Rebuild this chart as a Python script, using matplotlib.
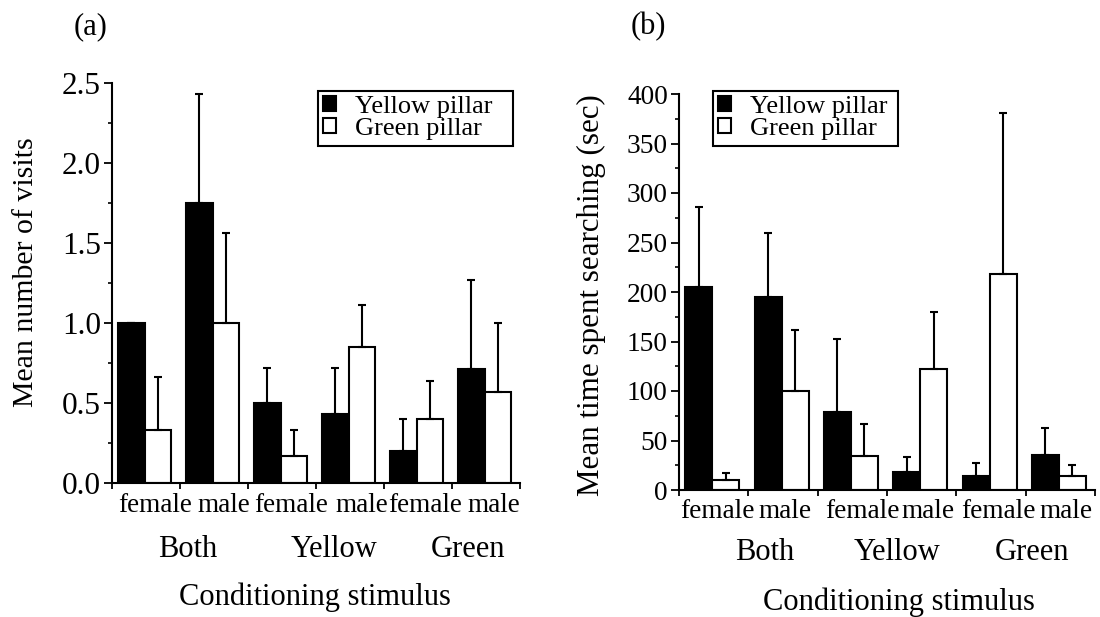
import numpy as np
import matplotlib.pyplot as plt
from matplotlib.ticker import MultipleLocator, FormatStrFormatter
from matplotlib.transforms import blended_transform_factory

# data (upper end of each error bar given as a value)
sexes = ['female', 'male', 'female', 'male', 'female', 'male']
stimuli = ['Both', 'Yellow', 'Green']
series = ['Yellow pillar', 'Green pillar']

visits_yellow = [1.0, 1.75, 0.5, 0.43, 0.2, 0.71]
visits_yellow_top = [1.0, 2.43, 0.72, 0.72, 0.40, 1.27]
visits_green = [0.33, 1.0, 0.17, 0.85, 0.40, 0.57]
visits_green_top = [0.66, 1.56, 0.33, 1.11, 0.64, 1.0]

time_yellow = [205, 195, 79, 18, 14, 35]
time_yellow_top = [286, 260, 153, 33, 27, 63]
time_green = [10, 100, 34, 122, 218, 14]
time_green_top = [17, 162, 67, 180, 381, 25]

plt.rcParams['font.family'] = ['Liberation Serif', 'DejaVu Serif']

W, H = 1100, 617
fig = plt.figure(figsize=(W / 100, H / 100), dpi=100)


def fx(px):
    return px / W


def fy(py):
    return 1 - py / H


def draw_panel(ax, yel, yel_top, grn, grn_top, ylim, major, minor, fmt, tick_fs):
    x = np.arange(len(yel))
    w = 0.39
    off = 0.09
    yel = np.array(yel)
    grn = np.array(grn)
    ax.bar(x + off, yel, w, align='edge', color='black', edgecolor='black',
           linewidth=1.5, label=series[0], zorder=2)
    ax.bar(x + off + w, grn, w, align='edge', color='white', edgecolor='black',
           linewidth=1.5, label=series[1], zorder=2)
    for xs, v, top in [(x + off + w / 2, yel, yel_top), (x + off + 1.5 * w, grn, grn_top)]:
        up = np.array(top) - v
        ax.errorbar(xs, v, yerr=[np.zeros_like(up), up], fmt='none', ecolor='black',
                    elinewidth=1.5, capsize=3, capthick=1.5, zorder=3)
    ax.set_xlim(0, len(yel))
    ax.set_ylim(*ylim)
    ax.set_xticks(np.arange(len(yel) + 1))
    ax.set_xticklabels([])
    ax.yaxis.set_major_locator(MultipleLocator(major))
    ax.yaxis.set_minor_locator(MultipleLocator(minor))
    ax.yaxis.set_major_formatter(FormatStrFormatter(fmt))
    ax.tick_params(axis='y', which='major', direction='out', length=6, width=1.3,
                   labelsize=tick_fs, pad=2)
    ax.tick_params(axis='y', which='minor', direction='out', length=3, width=1.2)
    ax.tick_params(axis='x', which='major', direction='out', length=4, width=1.3)
    for s in ['top', 'right']:
        ax.spines[s].set_visible(False)
    for s in ['left', 'bottom']:
        ax.spines[s].set_linewidth(1.5)


def add_legend(ax, x0, x1, ytop, ybot, fs):
    leg = ax.legend(loc='upper left',
                    bbox_to_anchor=(fx(x0), fy(ybot), fx(x1) - fx(x0), fy(ytop) - fy(ybot)),
                    bbox_transform=fig.transFigure, mode='expand', fontsize=fs, frameon=True,
                    fancybox=False, edgecolor='black', framealpha=1, handlelength=0.5,
                    handleheight=0.5, handletextpad=0.7, borderpad=0.2, labelspacing=0.0,
                    borderaxespad=0)
    leg.get_frame().set_linewidth(1.5)


# ---- panel (a)
ax1 = fig.add_axes([fx(112), fy(483), fx(520) - fx(112), fy(83) - fy(483)])
draw_panel(ax1, visits_yellow, visits_yellow_top, visits_green, visits_green_top,
           (0, 2.5), 0.5, 0.25, '%.1f', 22.5)
fig.text(fx(26), fy(272), 'Mean number of visits', fontsize=21.5, rotation=90,
         ha='center', va='center')
add_legend(ax1, 318, 513, 91, 147, 19)

tr1 = blended_transform_factory(ax1.transData, fig.transFigure)
lab_a = [0.63, 1.64, 2.63, 3.67, 4.6, 5.61]
for xp, s in zip(lab_a, sexes):
    ax1.text(xp, fy(512), s, fontsize=19.5, ha='center', va='baseline', transform=tr1)
grp_a = [1.12, 3.27, 5.23]
for xp, s in zip(grp_a, stimuli):
    ax1.text(xp, fy(557), s, fontsize=22, ha='center', va='baseline', transform=tr1)
ax1.text(2.98, fy(605), 'Conditioning stimulus', fontsize=22, ha='center', va='baseline',
         transform=tr1)
fig.text(fx(91), fy(27), '(a)', fontsize=22, ha='center', va='center')

# ---- panel (b)
ax2 = fig.add_axes([fx(679), fy(490), fx(1095) - fx(679), fy(94) - fy(490)])
draw_panel(ax2, time_yellow, time_yellow_top, time_green, time_green_top,
           (0, 400), 50, 25, '%d', 19.7)
fig.text(fx(591), fy(295), 'Mean time spent searching (sec)', fontsize=22.3, rotation=90,
         ha='center', va='center')
add_legend(ax2, 713, 898, 91, 147, 19)

tr2 = blended_transform_factory(ax2.transData, fig.transFigure)
lab_b = [0.55, 1.53, 2.64, 3.59, 4.6, 5.58]
for xp, s in zip(lab_b, sexes):
    ax2.text(xp, fy(518), s, fontsize=19.6, ha='center', va='baseline', transform=tr2)
grp_b = [1.23, 3.15, 5.09]
for xp, s in zip(grp_b, stimuli):
    ax2.text(xp, fy(560), s, fontsize=22, ha='center', va='baseline', transform=tr2)
ax2.text(3.17, fy(610), 'Conditioning stimulus', fontsize=22, ha='center', va='baseline',
         transform=tr2)
fig.text(fx(648), fy(27), '(b)', fontsize=22, ha='center', va='center')

fig.savefig('out.png', dpi=100)
